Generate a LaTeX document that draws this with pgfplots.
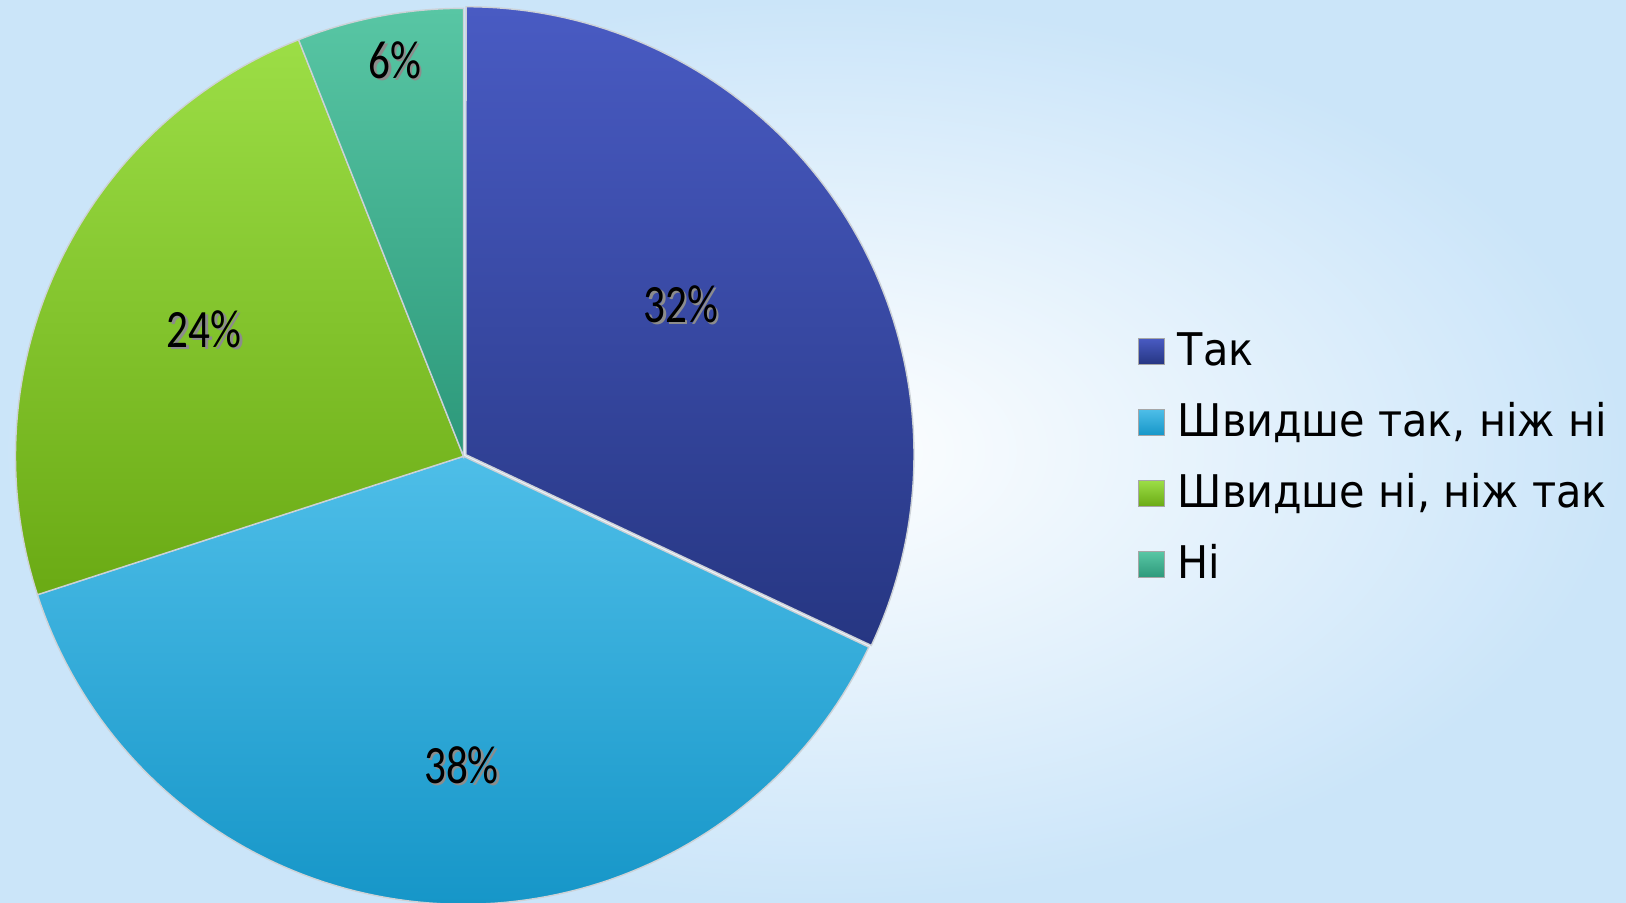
\documentclass[border=0pt]{standalone}
\usepackage{fontspec}
\setmainfont{DejaVu Sans}[FakeStretch=0.92]
\newfontfamily\pctfont[FakeStretch=0.8]{Carlito}
\usepackage{pgfplots}
\pgfplotsset{compat=1.18}
\definecolor{takT}{RGB}{73,91,195}
\definecolor{takB}{RGB}{38,54,130}
\definecolor{shtT}{RGB}{78,190,232}
\definecolor{shtB}{RGB}{22,150,200}
\definecolor{shnT}{RGB}{156,222,70}
\definecolor{shnB}{RGB}{106,170,20}
\definecolor{niT}{RGB}{88,198,164}
\definecolor{niB}{RGB}{44,152,122}
\definecolor{bgout}{RGB}{203,229,249}
\definecolor{edge}{RGB}{205,210,215}
% shares (percent)
\def\sA{32}\def\sB{38}\def\sC{24}\def\sD{6}
\pgfmathsetmacro{\aA}{90-3.6*\sA}
\pgfmathsetmacro{\aB}{\aA-3.6*\sB}
\pgfmathsetmacro{\aC}{\aB-3.6*\sC}
\pgfmathsetmacro{\aD}{\aC-3.6*\sD}
\def\cx{463.5}\def\cy{445.7}\def\R{448}
\def\cxA{466}\def\cyA{447.3}
\newcommand{\pct}[2]{%
  \node[text=black!45,font=\pctfont\fontsize{27}{27}\selectfont] at ([shift={(1.2pt,-1.2pt)}]axis cs:#1) {#2};
  \node[text=black,font=\pctfont\fontsize{27}{27}\selectfont] at (axis cs:#1) {#2};}
\begin{document}
\begin{tikzpicture}
\begin{axis}[
  scale only axis, width=813pt, height=451pt,
  xmin=0, xmax=1626, ymin=0, ymax=902,
  axis line style={draw=none}, ticks=none, clip=true,
  axis background/.style={inner color=white, outer color=bgout},
  legend style={at={(axis cs:1138,571)}, anchor=north west, draw=none, fill=none,
    font=\fontsize{22.5}{22.5}\selectfont, inner sep=0pt, outer sep=0pt, row sep=13.6pt,
    nodes={inner sep=0pt, outer sep=0pt, text height=17pt, text depth=5pt},
    /tikz/every odd column/.style={column sep=6.5pt}},
  legend cell align=left,
  legend image code/.code={\filldraw[#1, draw=black!35, line width=0.4pt] (0pt,-5.6pt) rectangle (13pt,7.4pt);},
]
\addplot[shade, top color=takT, bottom color=takB, draw=edge, line width=0.7pt,
  domain=\aA:90, samples=90, variable=\t]
  ({\cxA+\R*cos(t)},{\cyA+\R*sin(t)}) -- (axis cs:\cxA,\cyA) -- cycle;
\addlegendentry{Так}
\addplot[shade, top color=shtT, bottom color=shtB, draw=edge, line width=0.7pt,
  domain=\aB:\aA, samples=100, variable=\t]
  ({\cx+\R*cos(t)},{\cy+\R*sin(t)}) -- (axis cs:\cx,\cy) -- cycle;
\addlegendentry{Швидше так, ніж ні}
\addplot[shade, top color=shnT, bottom color=shnB, draw=edge, line width=0.7pt,
  domain=\aC:\aB, samples=80, variable=\t]
  ({\cx+\R*cos(t)},{\cy+\R*sin(t)}) -- (axis cs:\cx,\cy) -- cycle;
\addlegendentry{Швидше ні, ніж так}
\addplot[shade, top color=niT, bottom color=niB, draw=edge, line width=0.7pt,
  domain=\aD:\aC, samples=30, variable=\t]
  ({\cx+\R*cos(t)},{\cy+\R*sin(t)}) -- (axis cs:\cx,\cy) -- cycle;
\addlegendentry{Ні}
\pct{681,598}{32\%}
\pct{461.5,137}{38\%}
\pct{204.3,573}{24\%}
\pct{395,842}{6\%}
\end{axis}
\end{tikzpicture}
\end{document}
